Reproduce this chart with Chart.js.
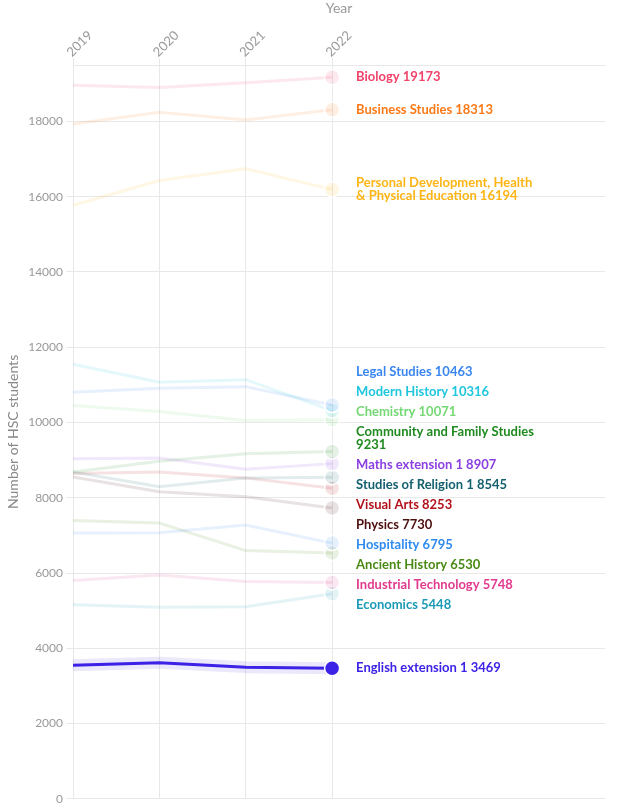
<!DOCTYPE html>
<html>
<head>
<meta charset="utf-8">
<script src="https://cdn.jsdelivr.net/npm/chart.js@4"></script>
<style>
  html, body { margin: 0; padding: 0; background: #ffffff; }
  #wrap { width: 622px; height: 809px; position: relative; }
</style>
</head>
<body>
<div id="wrap"><canvas id="c" width="622" height="809"></canvas></div>
<script>
// ---------- DATA ----------
const years = [2019, 2020, 2021, 2022];
const yTicks = [0, 2000, 4000, 6000, 8000, 10000, 12000, 14000, 16000, 18000];

const biology           = [18965, 18904, 19026, 19173];
const businessStudies   = [17933, 18242, 18039, 18313];
const pdhpe             = [15770, 16432, 16742, 16194];
const legalStudies      = [10805, 10911, 10953, 10463];
const modernHistory     = [11546, 11069, 11138, 10316];
const chemistry         = [10450, 10291, 10053, 10071];
const communityFamily   = [8687, 8968, 9171, 9231];
const mathsExt1         = [9039, 9057, 8756, 8907];
const studiesReligion1  = [8687, 8290, 8528, 8545];
const visualArts        = [8642, 8687, 8528, 8253];
const physics           = [8555, 8158, 8025, 7730];
const hospitality       = [7062, 7072, 7274, 6795];
const ancientHistory    = [7398, 7327, 6596, 6530];
const industrialTech    = [5802, 5950, 5775, 5748];
const economics         = [5156, 5087, 5103, 5448];
const englishExt1       = [3552, 3613, 3499, 3469];

const subjectNames = [
  'Biology', 'Business Studies', 'Personal Development, Health & Physical Education',
  'Legal Studies', 'Modern History', 'Chemistry', 'Community and Family Studies',
  'Maths extension 1', 'Studies of Religion 1', 'Visual Arts', 'Physics',
  'Hospitality', 'Ancient History', 'Industrial Technology', 'Economics', 'English extension 1'
];
const subjectValues = [
  biology, businessStudies, pdhpe, legalStudies, modernHistory, chemistry, communityFamily,
  mathsExt1, studiesReligion1, visualArts, physics, hospitality, ancientHistory,
  industrialTech, economics, englishExt1
];
const highlighted = 'English extension 1';

// ---------- STYLE ----------
const subjectColors = [
  '#f2426a', '#fb7a17', '#fdb515', '#3a86f0', '#1fc6de', '#74d874', '#1f8a1f',
  '#8b3fe0', '#13606f', '#b3121b', '#4e0f0f', '#2e8bf0', '#4a8a14', '#e23a8e',
  '#1b9ab5', '#3b22e6'
];
const FONT = 'Lato, "Source Sans Pro", "Open Sans", sans-serif';
Chart.defaults.font.family = FONT;

function fade(hex, a) {
  const r = parseInt(hex.slice(1, 3), 16), g = parseInt(hex.slice(3, 5), 16), b = parseInt(hex.slice(5, 7), 16);
  return `rgba(${r},${g},${b},${a})`;
}

const lastIdx = years.length - 1;
const datasets = [];
subjectNames.forEach((name, i) => {
  const hi = name === highlighted;
  const pts = years.map((yr, k) => ({ x: yr, y: subjectValues[i][k] }));
  if (hi) {
    datasets.push({
      label: name + ' halo', isHalo: true, data: pts,
      borderColor: fade(subjectColors[i], 0.1), borderWidth: 12,
      pointRadius: 0, order: 1, borderCapStyle: 'round', borderJoinStyle: 'round'
    });
  }
  datasets.push({
    label: name, data: pts, subjectColor: subjectColors[i],
    borderColor: hi ? subjectColors[i] : fade(subjectColors[i], 0.12),
    borderWidth: 3,
    pointRadius: years.map((_, k) => k === lastIdx ? 7.5 : 0),
    pointBackgroundColor: hi ? subjectColors[i] : fade(subjectColors[i], 0.12),
    pointBorderColor: '#ffffff',
    pointBorderWidth: 1.5,
    order: hi ? 0 : 2,
    tension: 0
  });
});

// ---------- END LABELS PLUGIN ----------
const endLabels = {
  id: 'endLabels',
  afterDatasetsDraw(chart) {
    const ctx = chart.ctx;
    const xs = chart.scales.x, ys = chart.scales.y;
    const x0 = xs.getPixelForValue(years[lastIdx]) + 24;
    const lineH = 13, gap = 7, maxW = 184;
    ctx.save();
    ctx.font = 'bold 13px ' + FONT;
    const wrap = (text) => {
      const words = text.split(' ');
      const lines = [];
      let cur = '';
      words.forEach(w => {
        const t = cur ? cur + ' ' + w : w;
        if (cur && ctx.measureText(t).width > maxW) { lines.push(cur); cur = w; }
        else cur = t;
      });
      if (cur) lines.push(cur);
      return lines;
    };
    const items = chart.data.datasets.filter(d => !d.isHalo).map(d => {
      const v = d.data[lastIdx].y;
      const lines = wrap(d.label + ' ' + v);
      return { lines, color: d.subjectColor, y: ys.getPixelForValue(v), h: lines.length * lineH + gap };
    }).sort((a, b) => a.y - b.y);

    let blocks = items.map(it => ({ items: [it], top: it.y - it.h / 2, h: it.h }));
    const place = (bl) => {
      let o = 0, s = 0;
      bl.items.forEach(it => { s += (it.y - it.h / 2) - o; o += it.h; });
      bl.h = o; bl.top = s / bl.items.length;
    };
    let merged = true;
    while (merged) {
      merged = false;
      for (let i = 1; i < blocks.length; i++) {
        const a = blocks[i - 1], b = blocks[i];
        if (b.top < a.top + a.h - 0.01) {
          const nb = { items: a.items.concat(b.items) };
          place(nb);
          blocks.splice(i - 1, 2, nb);
          merged = true;
          break;
        }
      }
    }
    ctx.textAlign = 'left';
    ctx.textBaseline = 'middle';
    blocks.forEach(bl => {
      let o = 0;
      bl.items.forEach(it => {
        const c = bl.top + o + it.h / 2;
        o += it.h;
        ctx.fillStyle = it.color;
        const n = it.lines.length;
        it.lines.forEach((ln, j) => ctx.fillText(ln, x0, c + (j - (n - 1) / 2) * lineH));
      });
    });
    ctx.restore();
  }
};

const gridColor = '#e8e8e8';
new Chart(document.getElementById('c'), {
  type: 'line',
  data: { datasets },
  plugins: [endLabels],
  options: {
    responsive: false,
    animation: false,
    layout: { padding: { left: 5, right: 17, top: 0, bottom: 8 } },
    plugins: { legend: { display: false }, tooltip: { enabled: false } },
    scales: {
      x: {
        type: 'linear', position: 'top',
        min: years[0], max: years[lastIdx] + 3.16,
        afterBuildTicks: s => { s.ticks = years.map(v => ({ value: v })); },
        afterFit: s => { s.height = 65; },
        ticks: {
          minRotation: 45, maxRotation: 45, color: '#999', padding: -2, labelOffset: 7,
          font: { size: 13, family: FONT }, callback: v => String(v)
        },
        grid: { color: gridColor, tickLength: 7 },
        border: { display: true, color: gridColor },
        title: { display: true, text: 'Year', color: '#999', font: { size: 14, family: FONT }, padding: { top: 0, bottom: 4 } }
      },
      y: {
        min: 0, max: 19500,
        afterBuildTicks: s => { s.ticks = yTicks.map(v => ({ value: v })); },
        afterFit: s => { s.width = 68; },
        ticks: {
          color: '#999', font: { size: 12, family: FONT }, padding: 3,
          callback: v => String(v)
        },
        grid: { color: gridColor, tickLength: 7 },
        border: { display: false },
        title: { display: true, text: 'Number of HSC students', color: '#888', font: { size: 14, family: FONT }, padding: { top: 0, bottom: 0 } }
      }
    }
  }
});
</script>
</body>
</html>
